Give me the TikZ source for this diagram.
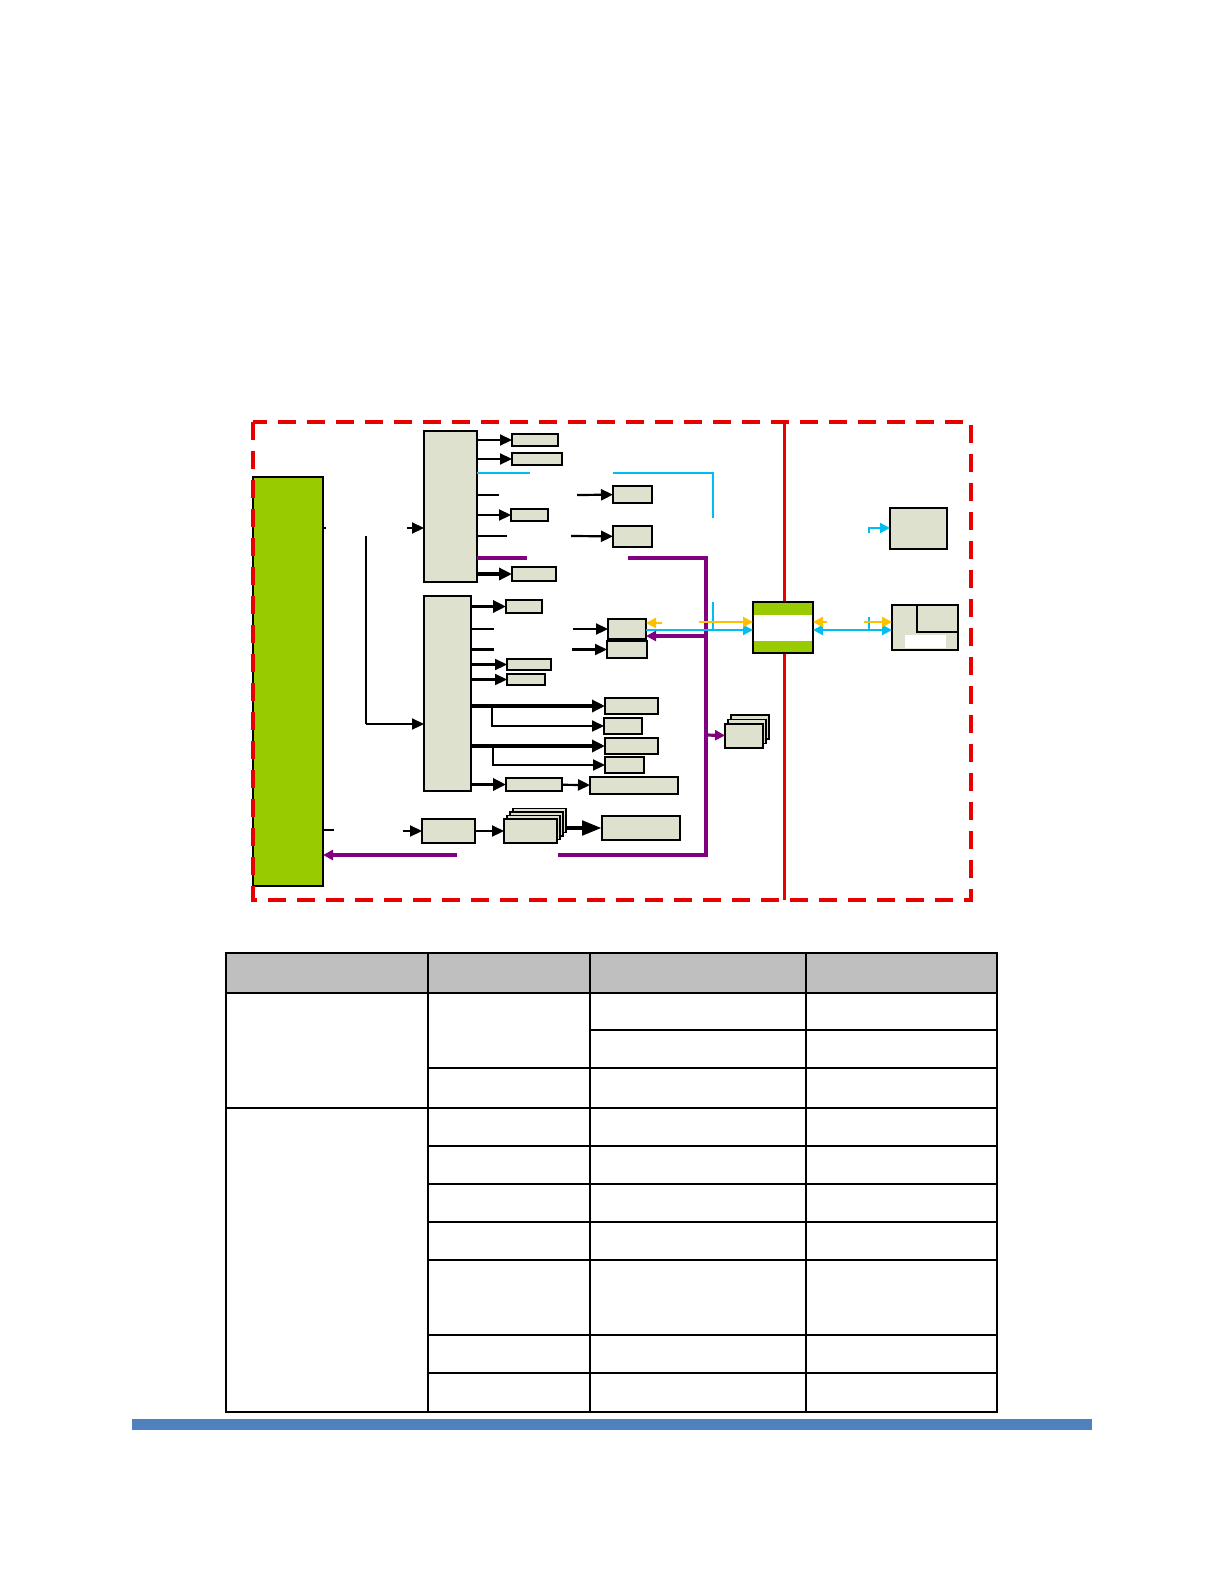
\documentclass[tikz,border=0pt]{standalone}
\usepackage{tikz}
\usetikzlibrary{arrows.meta,positioning,fit}
\definecolor{BusGreen}{RGB}{153,204,0}
\definecolor{BoxFill}{RGB}{221,225,205}
\definecolor{LinkRed}{RGB}{232,0,0}
\definecolor{LinkCyan}{RGB}{0,190,240}
\definecolor{LinkPurple}{RGB}{128,0,128}
\definecolor{LinkYellow}{RGB}{255,192,0}
\definecolor{HeadGray}{RGB}{191,191,191}
\definecolor{BarBlue}{RGB}{79,129,189}

\begin{document}
\begin{tikzpicture}[x=0.5pt,y=-0.5pt,
    blk/.style={draw, fill=BoxFill, line width=0.6pt, inner sep=0pt, outer sep=0pt},
    bus/.style={draw, fill=BusGreen, line width=0.6pt, inner sep=0pt, outer sep=0pt},
    arr/.style={-{Triangle[length=6pt,width=5.5pt]}, line width=1.1pt},
    tarr/.style={-{Triangle[length=6.5pt,width=6pt]}, line width=1.7pt},
    stub/.style={line width=1.1pt},
    cy/.style={LinkCyan, line width=1.1pt},
    pu/.style={LinkPurple, line width=1.6pt},
    ye/.style={LinkYellow, line width=1.3pt},
    tip/.style={-{Triangle[length=5pt,width=5pt]}},
    dtip/.style={{Triangle[length=5pt,width=5pt]}-{Triangle[length=5pt,width=5pt]}}]

  \useasboundingbox (0,0) rectangle (1224,1584);

  % System bus on the left
  \node[bus, fit={(253,477) (323,886)}] (sysbus) {};

  % Outer frame and divider
  \draw[LinkRed, line width=1.7pt, dash pattern=on 9pt off 5.5pt] (253,422) rectangle (971,900);
  \draw[LinkRed, line width=1.5pt] (784,422) -- (784,900);

  % Upper block and its outputs
  \node[blk, fit={(424,431) (477,582)}] (muxa) {};
  \node[blk, fit={(512,434) (558,446)}] (a1) {};
  \node[blk, fit={(512,453) (562,465)}] (a2) {};
  \node[blk, fit={(511,509) (548,521)}] (a3) {};
  \node[blk, fit={(512,567) (556,581)}] (a4) {};
  \node[blk, fit={(613,486) (652,503)}] (a5) {};
  \node[blk, fit={(613,526) (652,547)}] (a6) {};

  \draw[stub] (sysbus.east |- 0,528) -- (326,528);
  \draw[arr] (407,528) -- (muxa.west |- 0,528);
  \draw[arr] (muxa.east |- a1) -- (a1);
  \draw[arr] (muxa.east |- a2) -- (a2);
  \draw[stub] (muxa.east |- 0,495) -- (499,495);
  \draw[arr] (577,495) -- (a5);
  \draw[arr] (muxa.east |- a3) -- (a3);
  \draw[stub] (muxa.east |- 0,536) -- (507,536);
  \draw[arr] (571,536) -- (a6);
  \draw[tarr] (muxa.east |- a4) -- (a4);

  % Lower block and its outputs
  \node[blk, fit={(424,596) (471,791)}] (muxb) {};
  \node[blk, fit={(506,600) (542,613)}] (b1) {};
  \node[blk, fit={(608,619) (646,639)}] (b2) {};
  \node[blk, fit={(607,641) (647,658)}] (b3) {};
  \node[blk, fit={(507,659) (551,670)}] (b4) {};
  \node[blk, fit={(507,674) (545,685)}] (b5) {};
  \node[blk, fit={(605,698) (658,714)}] (b6) {};
  \node[blk, fit={(604,718) (642,734)}] (b7) {};
  \node[blk, fit={(605,738) (658,754)}] (b8) {};
  \node[blk, fit={(605,757) (644,773)}] (b9) {};
  \node[blk, fit={(506,778) (562,791)}] (b10) {};
  \node[blk, fit={(590,777) (678,794)}] (b11) {};

  \draw[stub] (366,536) -- (366,724);
  \draw[arr] (366,724) -- (muxb.west |- 0,724);
  \draw[tarr] (muxb.east |- b1) -- (b1);
  \draw[stub] (muxb.east |- b2) -- (494,629);
  \draw[arr] (573,629) -- (b2);
  \draw[stub] (muxb.east |- b3) -- (494,649.5);
  \draw[arr] (572,649.5) -- (b3);
  \draw[arr] (muxb.east |- b4) -- (b4);
  \draw[arr] (muxb.east |- b5) -- (b5);
  \draw[tarr] (muxb.east |- b6) -- (b6);
  \draw[arr] (492,706) |- (b7);
  \draw[-{Triangle[length=6.5pt,width=6pt]}, line width=2.2pt] (muxb.east |- b8) -- (b8);
  \draw[arr] (493,746) |- (b9);
  \draw[tarr] (muxb.east |- b10) -- (b10);
  \draw[arr] (b10) -- (b11);

  % Bottom chain
  \node[blk, fit={(422,819) (475,843)}] (c1) {};
  \foreach \k in {3,2,1}
    \node[blk, fit={(504+3*\k,819-3.5*\k) (557+3*\k,843-3.5*\k)}] (c2b\k) {};
  \node[blk, fit={(504,819) (557,843)}] (c2) {};
  \node[blk, fit={(602,816) (680,840)}] (c3) {};

  \draw[stub] (sysbus.east |- 0,830) -- (334,830);
  \draw[arr] (403,831) -- (c1);
  \draw[arr] (c1) -- (c2);
  \draw[-{Triangle[length=10pt,width=7pt]}, line width=2.4pt] (c2b3.east |- c3) -- (c3);

  % Stacked boxes on the purple line
  \foreach \k in {2,1}
    \node[blk, fit={(725+3*\k,724-4.5*\k) (763+3*\k,748-4.5*\k)}] (d1b\k) {};
  \node[blk, fit={(725,724) (763,748)}] (d1) {};

  % Purple return path
  \draw[pu] (muxa.east |- 0,558) -- (527,558);
  \draw[pu] (628,558) -| (706,855) -- (558,855);
  \draw[pu, tip] (457,855) -- (sysbus.east |- 0,855);
  \draw[pu, tip] (706,636) -- (b2.east |- 0,636);
  \draw[pu, tip] (706,735) -- (d1);

  % Hub on the divider
  \node[bus, fit={(753,602) (813,653)}] (hub) {};
  \fill[white] (753.6,615) rectangle (812.4,641);

  % Right side boxes
  \node[blk, fit={(890,508) (947,549)}] (e1) {};
  \node[blk, fit={(892,605) (958,650)}] (e2) {};
  \node[blk, fit={(917,605) (958,632)}] (e2in) {};
  \node[fill=white, inner sep=0pt, fit={(905,635) (946,648)}] (e2lbl) {};

  % Cyan links
  \draw[cy] (muxa.east |- 0,473) -- (530,473);
  \draw[cy] (613,473) -| (713,518);
  \draw[cy] (713,602) -- (713,630);
  \draw[cy, tip] (b2.east |- 0,630) -- (hub.west |- 0,630);
  \draw[cy, dtip] (hub.east |- 0,630) -- (e2.west |- 0,630);
  \draw[cy] (869,617) -- (869,630);
  \draw[cy, tip] (869,533) |- (e1.west |- 0,528);

  % Yellow links
  \draw[ye, tip] (662,623) -- (b2.east |- 0,623);
  \draw[ye, tip] (699,622) -- (hub.west |- 0,622);
  \draw[ye, tip] (827,622) -- (hub.east |- 0,622);
  \draw[ye, tip] (864,622) -- (e2.west |- 0,622);

  % Table
  \fill[HeadGray] (226,953) rectangle (997,993);
  \begin{scope}[line width=0.7pt]
    \draw (226,953) rectangle (997,1412);
    \foreach \cx in {428,590,806}
      \draw (\cx,953) -- (\cx,1412);
    \foreach \ry in {993,1108}
      \draw (226,\ry) -- (997,\ry);
    \draw (590,1030) -- (997,1030);
    \foreach \ry in {1068,1146,1184,1222,1260,1335,1373}
      \draw (428,\ry) -- (997,\ry);
  \end{scope}

  % Footer bar
  \fill[BarBlue] (132,1419) rectangle (1092,1430);
\end{tikzpicture}
\end{document}
